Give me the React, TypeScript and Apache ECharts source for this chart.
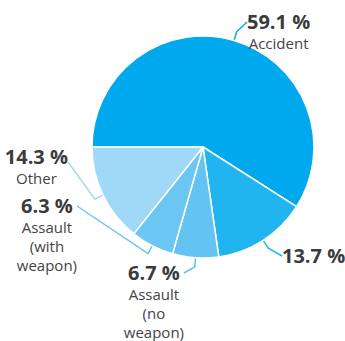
import React, { useEffect, useRef } from 'react';
import * as echarts from 'echarts';

const categories = ['Accident', '', 'Assault (no weapon)', 'Assault (with weapon)', 'Other'];
const values = [59.1, 13.7, 6.7, 6.3, 14.3];
const colors = ['#00A9EE', '#20B5F0', '#63C3F3', '#6CC6F4', '#A0D8F8'];

// label layout: [x, y of value line centre, side]
const labelSpots: [number, number, 'left' | 'right'][] = [
  [247, 21, 'left'],
  [282, 255, 'left'],
  [184, 272, 'right'],
  [77, 205, 'right'],
  [68, 156, 'right'],
];
const lineEnds: [number, number][] = [
  [247, 22],
  [282, 256],
  [184, 273],
  [77, 206],
  [68, 162],
];

const FONT = "'Open Sans', 'Noto Sans', sans-serif";

export default function App() {
  const ref = useRef<HTMLDivElement>(null);
  useEffect(() => {
    document.body.style.margin = '0';
    const chart = echarts.init(ref.current!, null, { renderer: 'svg' });
    chart.setOption({
      animation: false,
      series: [
        {
          type: 'pie',
          center: [203, 147],
          radius: 111,
          startAngle: 180,
          clockwise: true,
          avoidLabelOverlap: false,
          emphasis: { disabled: true },
          itemStyle: { borderColor: '#ffffff', borderWidth: 1.5 },
          label: {
            show: true,
            position: 'outside',
            formatter: (p: any) => {
              const v = `{v|${Number(p.value).toFixed(1)} %}`;
              if (!p.name) return v;
              return v + '\n' + String(p.name).split(' ').map((w: string) => `{n|${w}}`).join('\n');
            },
            rich: {
              v: { fontSize: 20, fontWeight: 'bold', lineHeight: 25, color: '#3b3b3b', fontFamily: FONT, align: 'center' },
              n: { fontSize: 15, lineHeight: 19, color: '#444444', fontFamily: FONT, align: 'center' },
            },
          },
          labelLine: { show: true, length: 9, length2: 10, lineStyle: { width: 1.5 } },
          labelLayout: (params: any) => {
            const i = params.dataIndex;
            const [x, y, side] = labelSpots[i];
            const pts = params.labelLinePoints;
            const out: any = { x, y: y - 12.5, align: side, verticalAlign: 'top' };
            if (pts) out.labelLinePoints = [pts[0], pts[1], lineEnds[i]];
            return out;
          },
          data: categories.map((name, i) => ({
            name,
            value: values[i],
            itemStyle: { color: colors[i] },
          })),
        },
      ],
    });
    return () => chart.dispose();
  }, []);
  return <div ref={ref} style={{ position: 'absolute', left: 0, top: 0, width: 345, height: 341 }} />;
}
